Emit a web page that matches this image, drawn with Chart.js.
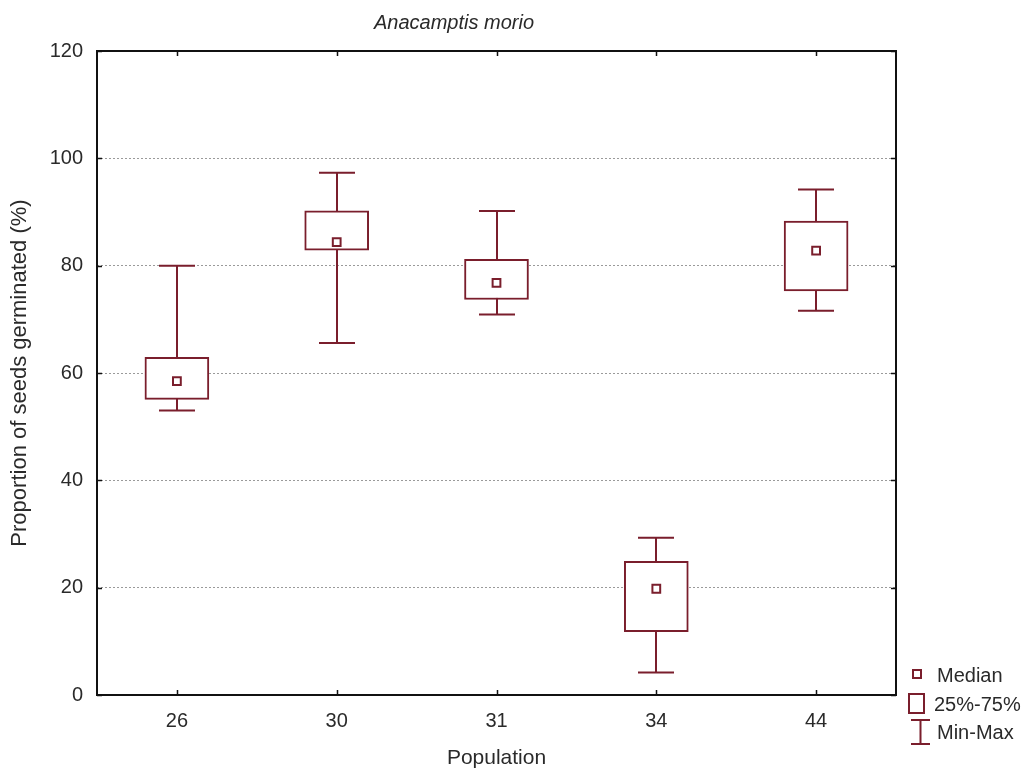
<!DOCTYPE html>
<html>
<head>
<meta charset="utf-8">
<script src="https://cdn.jsdelivr.net/npm/chart.js@4.4.1/dist/chart.umd.min.js"></script>
<style>
  html, body { margin: 0; padding: 0; background: #fff; }
  #wrap { width: 1033px; height: 771px; position: relative; }
</style>
</head>
<body>
<div id="wrap"><canvas id="chart"></canvas></div>
<script>
// Germination per population
const populations = ['26', '30', '31', '34', '44'];
const medians = [58.5, 84.4, 76.8, 19.8, 82.8];
const q1 = [55.1, 82.9, 73.7, 11.8, 75.3];
const q3 = [62.9, 90.2, 81.2, 24.9, 88.3];
const mins = [53.0, 65.6, 70.9, 4.2, 71.6];
const maxs = [80.0, 97.3, 90.2, 29.3, 94.2];
const yTicks = [0, 20, 40, 60, 80, 100, 120];

const MAROON = '#7a1e2c';
const FONT = '"Liberation Sans", Arial, sans-serif';

// whiskers go under the boxes, frame/ticks/legend on top
const boxDecor = {
    id: 'boxDecor',
    beforeDatasetsDraw(chart) {
        const { ctx, scales: { x, y } } = chart;
        ctx.save();
        ctx.strokeStyle = MAROON;
        ctx.lineWidth = 2;
        populations.forEach((p, i) => {
            const cx = Math.round(x.getPixelForValue(i));
            const yMin = y.getPixelForValue(mins[i]);
            const yMax = y.getPixelForValue(maxs[i]);
            ctx.beginPath();
            ctx.moveTo(cx, yMin);
            ctx.lineTo(cx, yMax);
            ctx.moveTo(cx - 18, yMin);
            ctx.lineTo(cx + 18, yMin);
            ctx.moveTo(cx - 18, yMax);
            ctx.lineTo(cx + 18, yMax);
            ctx.stroke();
        });
        ctx.restore();
    },
    afterDraw(chart) {
        const { ctx, chartArea: a, scales: { x, y } } = chart;
        ctx.save();
        // plot frame
        ctx.strokeStyle = '#111';
        ctx.lineWidth = 2;
        ctx.strokeRect(a.left, a.top, a.right - a.left, a.bottom - a.top);

        // inward tick marks on all four sides
        ctx.lineWidth = 1.5;
        ctx.beginPath();
        yTicks.forEach(v => {
            const py = Math.round(y.getPixelForValue(v)) + 0.5;
            ctx.moveTo(a.left, py); ctx.lineTo(a.left + 5, py);
            ctx.moveTo(a.right, py); ctx.lineTo(a.right - 5, py);
        });
        populations.forEach((p, i) => {
            const px = Math.round(x.getPixelForValue(i)) + 0.5;
            ctx.moveTo(px, a.bottom); ctx.lineTo(px, a.bottom - 5);
            ctx.moveTo(px, a.top); ctx.lineTo(px, a.top + 5);
        });
        ctx.stroke();

        // title, a bit left of the plot centre like the original
        ctx.fillStyle = '#2a2a2a';
        ctx.font = 'italic 20px ' + FONT;
        ctx.textAlign = 'center';
        ctx.textBaseline = 'middle';
        ctx.fillText('Anacamptis morio', 454, 23);

        // legend, bottom right outside the plot
        ctx.strokeStyle = MAROON;
        ctx.lineWidth = 2;
        ctx.strokeRect(913, 670, 8, 8);
        ctx.strokeRect(909, 694, 15, 19);
        ctx.beginPath();
        ctx.moveTo(911, 720); ctx.lineTo(930, 720);
        ctx.moveTo(920.5, 720); ctx.lineTo(920.5, 744);
        ctx.moveTo(911, 744); ctx.lineTo(930, 744);
        ctx.stroke();
        ctx.fillStyle = '#2a2a2a';
        ctx.font = '20px ' + FONT;
        ctx.textAlign = 'left';
        ctx.fillText('Median', 937, 676);
        ctx.fillText('25%-75%', 934, 705);
        ctx.fillText('Min-Max', 937, 733);
        ctx.restore();
    }
};

new Chart(document.getElementById('chart'), {
    data: {
        labels: populations,
        datasets: [
            {
                type: 'line',
                label: 'Median',
                data: medians,
                order: 1,
                showLine: false,
                pointStyle: 'rect',
                pointRadius: 5.5,
                pointBackgroundColor: '#fff',
                pointBorderColor: MAROON,
                pointBorderWidth: 2
            },
            {
                type: 'bar',
                label: '25%-75%',
                data: populations.map((p, i) => [q1[i], q3[i]]),
                order: 2,
                backgroundColor: '#fff',
                borderColor: MAROON,
                borderWidth: 2,
                borderSkipped: false,
                barThickness: 64,
                grouped: false
            }
        ]
    },
    options: {
        responsive: true,
        maintainAspectRatio: false,
        animation: false,
        layout: { padding: { top: 51, right: 137, left: 0, bottom: 0 } },
        plugins: {
            legend: { display: false },
            tooltip: { enabled: false }
        },
        scales: {
            x: {
                type: 'category',
                offset: true,
                grid: { display: false, drawTicks: false },
                border: { display: false },
                ticks: { color: '#2a2a2a', font: { family: FONT, size: 20 }, padding: 14 },
                title: {
                    display: true,
                    text: 'Population',
                    color: '#2a2a2a',
                    font: { family: FONT, size: 21 },
                    padding: { top: 4, bottom: 0 }
                },
                afterFit(scale) { scale.height = 76; }
            },
            y: {
                min: 0,
                max: 120,
                afterBuildTicks(scale) { scale.ticks = yTicks.map(v => ({ value: v })); },
                grid: {
                    drawTicks: false,
                    color: ctx => (ctx.tick && (ctx.tick.value === 0 || ctx.tick.value === 120)) ? 'rgba(0,0,0,0)' : '#9a9a9a',
                    lineWidth: 1
                },
                // in v4 the grid line dash lives on border.dash
                border: { display: false, dash: [2, 2] },
                ticks: { color: '#2a2a2a', font: { family: FONT, size: 20 }, padding: 14 },
                title: {
                    display: true,
                    text: 'Proportion of seeds germinated (%)',
                    color: '#2a2a2a',
                    font: { family: FONT, size: 22 },
                    padding: { top: 7, bottom: 0 }
                },
                afterFit(scale) { scale.width = 97; }
            }
        }
    },
    plugins: [boxDecor]
});
</script>
</body>
</html>
